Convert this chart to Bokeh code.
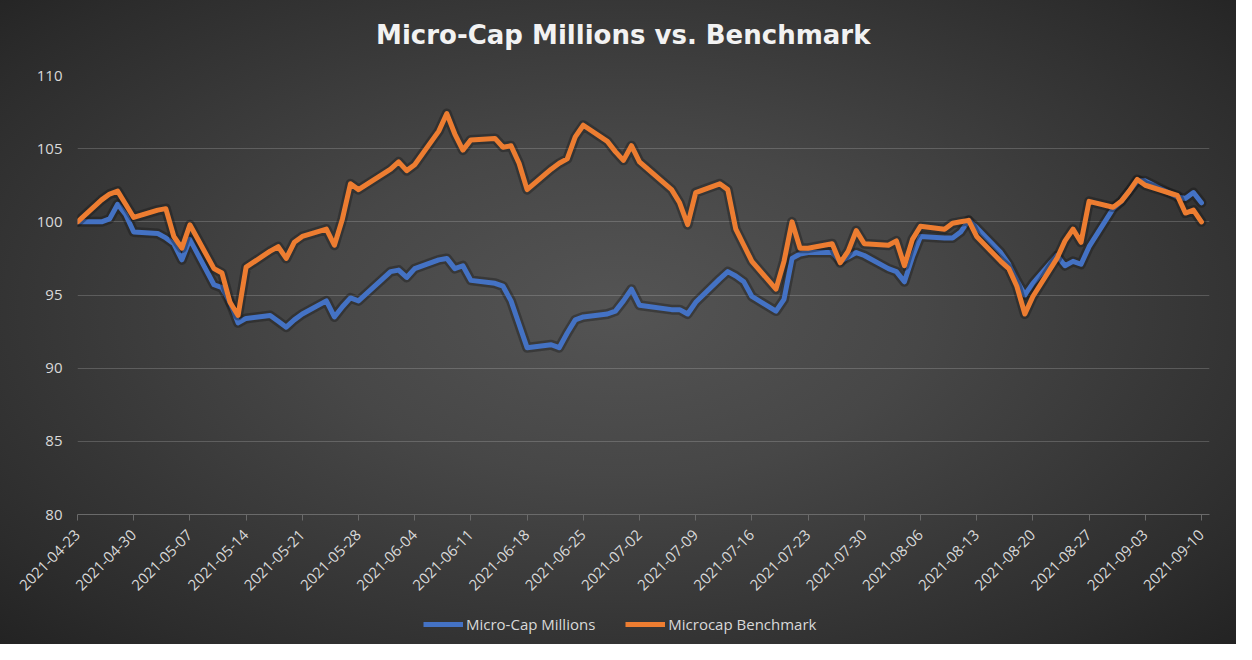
import pandas as pd
from math import pi
from bokeh.plotting import figure
from bokeh.layouts import column
from bokeh.models import (ColumnDataSource, Range1d, FixedTicker, DatetimeTickFormatter,
                          Legend, LegendItem, Label, InlineStyleSheet)
from bokeh.embed import file_html
from bokeh.resources import INLINE

# ---- data ----
start_date = "2021-04-23"
end_date = "2021-09-10"
holidays = ["2021-05-31", "2021-07-05", "2021-09-06"]

micro_cap_millions = [
    100.0,
    100.0, 100.2, 101.2, 100.5, 99.3,
    99.2, 98.9, 98.5, 97.4, 98.8,
    95.7, 95.5, 94.5, 93.1, 93.4,
    93.6, 93.2, 92.8, 93.3, 93.7,
    94.6, 93.5, 94.2, 94.8, 94.6,
    96.6, 96.7, 96.2, 96.8,
    97.4, 97.5, 96.8, 97.0, 96.0,
    95.8, 95.6, 94.6, 93.0, 91.4,
    91.6, 91.4, 92.4, 93.3, 93.5,
    93.7, 93.9, 94.6, 95.4, 94.3,
    94.0, 94.0, 93.7, 94.5,
    96.1, 96.6, 96.3, 95.9, 94.9,
    93.9, 94.7, 97.5, 97.8, 97.9,
    97.9, 97.3, 97.6, 97.9, 97.7,
    96.8, 96.6, 95.9, 97.6, 99.0,
    98.9, 98.9, 99.3, 100.1, 99.6,
    97.9, 97.1, 96.0, 95.0, 95.8,
    97.7, 97.0, 97.3, 97.1, 98.3,
    100.9, 101.4, 102.1, 102.8, 102.8,
    101.7, 101.6, 102.0, 101.3,
]

microcap_benchmark = [
    100.0,
    101.5, 101.9, 102.1, 101.2, 100.3,
    100.8, 100.9, 99.0, 98.2, 99.8,
    96.8, 96.5, 94.5, 93.6, 96.9,
    98.0, 98.3, 97.5, 98.6, 99.0,
    99.5, 98.4, 100.2, 102.6, 102.2,
    103.6, 104.1, 103.5, 103.9,
    106.2, 107.4, 106.0, 104.9, 105.6,
    105.7, 105.1, 105.2, 104.0, 102.2,
    103.6, 104.0, 104.3, 105.8, 106.6,
    105.5, 104.8, 104.2, 105.2, 104.1,
    102.2, 101.3, 99.8, 102.0,
    102.6, 102.2, 99.5, 98.4, 97.3,
    95.4, 97.3, 100.0, 98.2, 98.2,
    98.5, 97.2, 98.0, 99.4, 98.5,
    98.4, 98.7, 97.0, 98.8, 99.7,
    99.5, 99.9, 100.0, 100.1, 99.0,
    97.3, 96.8, 95.6, 93.7, 94.9,
    97.5, 98.7, 99.5, 98.6, 101.4,
    101.0, 101.4, 102.1, 102.9, 102.5,
    101.8, 100.6, 100.8, 100.0,
]

chart_title = "Micro-Cap Millions vs. Benchmark"
series_names = ["Micro-Cap Millions", "Microcap Benchmark"]
series_colors = ["#4472C4", "#ED7D31"]
y_ticks = [80, 85, 90, 95, 100, 105, 110]

dates = [d for d in pd.bdate_range(start_date, end_date) if d.strftime("%Y-%m-%d") not in holidays]
assert len(dates) == len(micro_cap_millions) == len(microcap_benchmark)

source = ColumnDataSource(dict(date=dates, mcm=micro_cap_millions, bench=microcap_benchmark))

tick_dates = pd.date_range(start_date, end_date, freq="7D")
tick_ms = [t.value / 1e6 for t in tick_dates]

css = InlineStyleSheet(css=":host { background: radial-gradient(ellipse at 50% 48%, #545454 0%, #474747 35%, #2c2c2c 85%, #232323 100%); }")

W = 1236
TOP_H = 60


def strip(height):
    f = figure(width=W, height=height, output_backend="svg", toolbar_location=None,
               x_axis_location=None, y_axis_location=None, title=None,
               x_range=Range1d(0, W), y_range=Range1d(0, height), min_border=0)
    f.border_fill_color = None
    f.background_fill_color = None
    f.outline_line_color = None
    f.grid.visible = False
    return f


# title strip
top = strip(TOP_H)
top.add_layout(Label(x=326, y=TOP_H - 34, text=chart_title, text_align="left",
                     text_baseline="middle", text_color="#f2f2f2",
                     text_font="DejaVu Sans", text_font_style="bold",
                     text_font_size="26px"))

# main chart
p = figure(width=W, height=540, x_axis_type="datetime", title=None,
           output_backend="svg", toolbar_location=None,
           x_range=Range1d(pd.Timestamp(start_date), pd.Timestamp("2021-09-11")),
           y_range=Range1d(80, 110),
           min_border_left=77, min_border_right=27, min_border_top=15, min_border_bottom=86)
p.border_fill_color = None
p.background_fill_color = None
p.outline_line_color = None

# grid
p.xgrid.grid_line_color = None
p.ygrid.grid_line_color = "#d9d9d9"
p.ygrid.grid_line_alpha = 0.22
p.ygrid.ticker = FixedTicker(ticks=y_ticks)

# y axis
p.yaxis.ticker = FixedTicker(ticks=y_ticks)
p.yaxis.axis_line_color = None
p.yaxis.major_tick_line_color = None
p.yaxis.major_tick_out = 0
p.yaxis.major_tick_in = 0
p.yaxis.minor_tick_line_color = None
p.yaxis.major_label_standoff = 15
p.yaxis.major_label_text_color = "#d9d9d9"
p.yaxis.major_label_text_font = "Open Sans"
p.yaxis.major_label_text_font_size = "15px"

# x axis
p.xaxis.ticker = FixedTicker(ticks=tick_ms)
p.xaxis.formatter = DatetimeTickFormatter(days="%Y-%m-%d", months="%Y-%m-%d")
p.xaxis.axis_line_color = "#6a6a6a"
p.xaxis.major_tick_line_color = "#6a6a6a"
p.xaxis.major_tick_out = 6
p.xaxis.major_tick_in = 0
p.xaxis.minor_tick_line_color = None
p.xaxis.major_label_orientation = pi / 4
p.xaxis.major_label_standoff = 12
p.xaxis.major_label_text_color = "#d9d9d9"
p.xaxis.major_label_text_font = "Open Sans"
p.xaxis.major_label_text_font_size = "15px"

# lines with dark glow
for col, color in zip(["mcm", "bench"], series_colors):
    p.line("date", col, source=source, line_color="#111111", line_alpha=0.35,
           line_width=10, line_join="round", line_cap="round")
    p.line("date", col, source=source, line_color=color, line_width=5,
           line_join="round", line_cap="round")

# legend strip
leg = strip(44)
# legend key renderers sit outside the strip's visible range
leg_renderers = [leg.line(x=[-50, -40], y=[-50, -40], line_color=c, line_width=5) for c in series_colors]
legend = Legend(items=[LegendItem(label=n, renderers=[r]) for n, r in zip(series_names, leg_renderers)],
                orientation="horizontal", location=(342, 6),
                label_text_color="#d9d9d9", label_text_font="Open Sans",
                label_text_font_size="15px", glyph_width=40, glyph_height=16,
                label_standoff=3, spacing=30,
                background_fill_alpha=0, border_line_alpha=0, padding=4, margin=0)
leg.add_layout(legend, "center")

layout = column(top, p, leg, spacing=0, stylesheets=[css])

open("out.html", "w").write(file_html(layout, INLINE))
